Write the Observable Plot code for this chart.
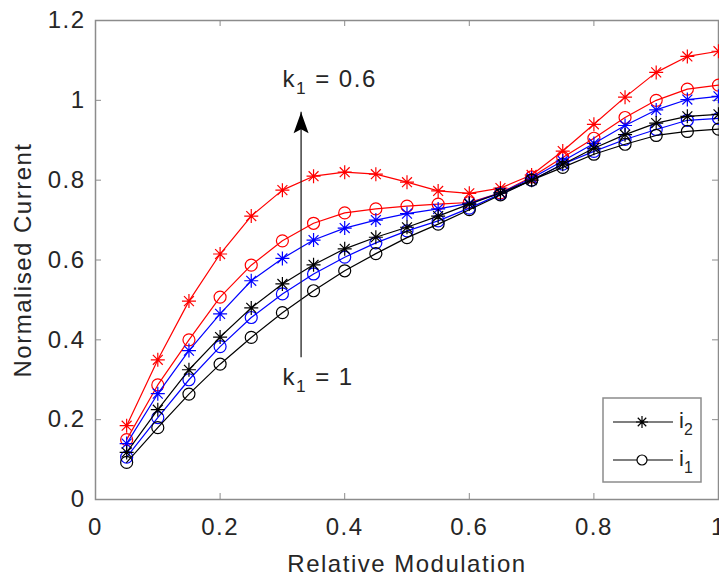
<!DOCTYPE html>
<html><head><meta charset="utf-8">
<script src="https://cdn.jsdelivr.net/npm/d3@7"></script>
<script src="https://cdn.jsdelivr.net/npm/@observablehq/plot@0.6"></script>
<style>
body{margin:0;background:#fff}
#chart{position:relative;width:719px;height:576px;overflow:hidden;background:#fff}
#legend{position:absolute;left:0;top:0;pointer-events:none}
</style>
</head><body><div id="chart"></div>
<script>
// ---- data ----
const relMod = [0.05,0.1,0.15,0.2,0.25,0.3,0.35,0.4,0.45,0.5,0.55,0.6,0.65,0.7,0.75,0.8,0.85,0.9,0.95,1.0];
const red_i2   = [0.185,0.35,0.497,0.615,0.71,0.775,0.81,0.82,0.815,0.795,0.773,0.767,0.78,0.813,0.873,0.94,1.008,1.07,1.11,1.123];
const red_i1   = [0.15,0.287,0.40,0.507,0.587,0.648,0.692,0.718,0.728,0.735,0.74,0.744,0.768,0.808,0.857,0.905,0.957,1.0,1.028,1.038];
const blue_i2  = [0.14,0.265,0.373,0.465,0.548,0.604,0.65,0.68,0.70,0.716,0.728,0.742,0.768,0.805,0.848,0.892,0.937,0.976,1.002,1.01];
const blue_i1  = [0.106,0.205,0.30,0.383,0.456,0.515,0.565,0.607,0.643,0.673,0.698,0.73,0.765,0.80,0.84,0.872,0.902,0.927,0.95,0.955];
const black_i2 = [0.118,0.225,0.325,0.407,0.48,0.54,0.588,0.628,0.657,0.682,0.71,0.74,0.768,0.80,0.84,0.88,0.914,0.943,0.96,0.965];
const black_i1 = [0.093,0.18,0.264,0.339,0.406,0.468,0.523,0.573,0.616,0.656,0.69,0.726,0.763,0.80,0.832,0.865,0.89,0.912,0.922,0.928];
const xTicks = [0,0.2,0.4,0.6,0.8,1];
const yTicks = [0,0.2,0.4,0.6,0.8,1,1.2];
const xLabel = "Relative Modulation";
const yLabel = "Normalised Current";
const annotText = ["k1 = 0.6","k1 = 1"];
const annotX = [0.30,0.30];
const annotY = [1.033,0.287];
const arrowX = 0.33, arrowFrom = 0.355, arrowTo = 0.97;
const legendNames = ["i2","i1"];

// ---- layout ----
const W=719,H=576,mL=95,mR=1,mT=20,mB=77;
const plotW=W-mL-mR, plotH=H-mT-mB;
const axisGrey="#8c8c8c", textCol="#262626";

const starSym = { draw(ctx,size){ const r=Math.sqrt(size/Math.PI); for(let a=0;a<4;a++){const t=a*Math.PI/4,dx=r*Math.cos(t),dy=r*Math.sin(t);ctx.moveTo(-dx,-dy);ctx.lineTo(dx,dy);} } };
const circSym = { draw(ctx,size){ const r=Math.sqrt(size/Math.PI); ctx.moveTo(r,0); ctx.arc(0,0,r,0,2*Math.PI); } };
const headSym = { draw(ctx){ ctx.moveTo(0,0); ctx.lineTo(-7.5,21); ctx.lineTo(0,17); ctx.lineTo(7.5,21); ctx.closePath(); } };

const series = [
  {vals:red_i1, color:"#ff0000", sym:circSym, r:6},
  {vals:red_i2, color:"#ff0000", sym:starSym, r:7},
  {vals:blue_i1, color:"#0000ff", sym:circSym, r:6},
  {vals:blue_i2, color:"#0000ff", sym:starSym, r:7},
  {vals:black_i1, color:"#000000", sym:circSym, r:6},
  {vals:black_i2, color:"#000000", sym:starSym, r:7}
];
const fmt = d => String(+d.toFixed(1));

const marks = [
  Plot.frame({stroke:axisGrey, strokeWidth:1.5}),
  Plot.tickY(yTicks,{y:d=>d, insetRight:plotW-6, stroke:axisGrey}),
  Plot.tickY(yTicks,{y:d=>d, insetLeft:plotW-6, stroke:axisGrey}),
  Plot.tickX(xTicks,{x:d=>d, insetTop:plotH-6, stroke:axisGrey}),
  Plot.tickX(xTicks,{x:d=>d, insetBottom:plotH-6, stroke:axisGrey}),
  Plot.axisX(xTicks,{tickSize:0, tickPadding:18, tickFormat:fmt, fill:textCol, label:xLabel, labelAnchor:"center", labelOffset:72, labelArrow:"none"}),
  Plot.axisY(yTicks,{tickSize:0, tickPadding:10, tickFormat:fmt, fill:textCol, label:yLabel, labelAnchor:"center", labelOffset:82, labelArrow:"none"})
];
for (const s of series) {
  const rows = relMod.map((x,i)=>({x, y:s.vals[i]}));
  marks.push(Plot.line(rows,{x:"x", y:"y", stroke:s.color, strokeWidth:1.2}));
  marks.push(Plot.dot(rows,{x:"x", y:"y", symbol:s.sym, r:s.r, stroke:s.color, fill:"none", strokeWidth:1.2}));
}
marks.push(Plot.ruleX([arrowX],{y1:arrowFrom, y2:arrowTo, stroke:"#222", strokeWidth:1.3}));
marks.push(Plot.dot([arrowX],{x:d=>d, y:arrowTo, symbol:headSym, fill:"#000", stroke:"none", r:5}));
marks.push(Plot.text(annotText,{x:(d,i)=>annotX[i], y:(d,i)=>annotY[i], text:d=>d, textAnchor:"start", lineAnchor:"bottom", fill:textCol}));

const svg = Plot.plot({
  width:W, height:H, marginLeft:mL, marginRight:mR, marginTop:mT, marginBottom:mB,
  x:{domain:[0,1]}, y:{domain:[0,1.2]},
  style:{fontFamily:"'Liberation Sans', Arial, sans-serif", fontSize:"24px", letterSpacing:"1.5px", background:"#fff", color:textCol, overflow:"visible"},
  marks
});
document.getElementById("chart").appendChild(svg);

// subscripts
function subscriptify(el, base, sub, rest, size){
  el.textContent="";
  const ns="http://www.w3.org/2000/svg";
  el.appendChild(document.createTextNode(base));
  const t1=document.createElementNS(ns,"tspan"); t1.setAttribute("dy", size*0.3); t1.setAttribute("font-size", size*0.72); t1.textContent=sub; el.appendChild(t1);
  if (rest){ const t2=document.createElementNS(ns,"tspan"); t2.setAttribute("dy", -size*0.3); t2.textContent=rest; el.appendChild(t2); }
}
d3.select(svg).selectAll("text").each(function(){
  const s=this.textContent;
  if (/^k1 = /.test(s)) subscriptify(this,"k","1",s.slice(2),24);
});

// legend
const leg = d3.select("#chart").append("svg").attr("id","legend").attr("width",W).attr("height",H)
  .style("font-family","'Liberation Sans', Arial, sans-serif");
leg.append("rect").attr("x",603).attr("y",398).attr("width",98).attr("height",84).attr("fill","#fff").attr("stroke",axisGrey).attr("stroke-width",1.5);
const legSyms=[starSym,circSym], legR=[6,5];
legendNames.forEach((n,i)=>{
  const y=422+i*38;
  leg.append("line").attr("x1",613).attr("x2",673).attr("y1",y).attr("y2",y).attr("stroke","#000").attr("stroke-width",1.2);
  leg.append("path").attr("transform",`translate(642,${y})`).attr("d",d3.symbol(legSyms[i], Math.PI*legR[i]*legR[i])()).attr("fill",i? "#fff":"none").attr("stroke","#000").attr("stroke-width",1.2);
  const t=leg.append("text").attr("x",679).attr("y",y+6).attr("font-size",22).attr("fill",textCol).node();
  subscriptify(t,"i",n.slice(1),"",22);
});
</script>
</body></html>
